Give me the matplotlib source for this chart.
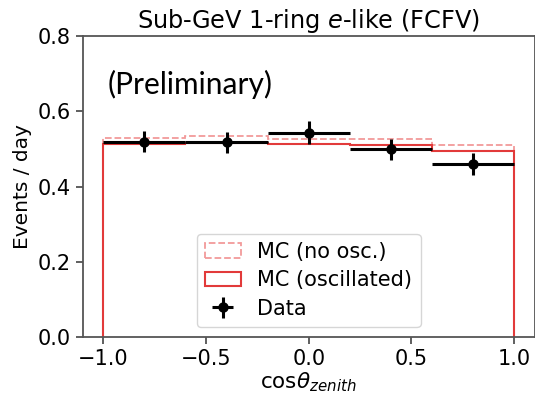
import numpy as np
import matplotlib
matplotlib.use('Agg')
from matplotlib import pyplot as plt
from matplotlib.patches import Patch

# bins in cos(theta_zenith)
edges = [-1.0, -0.6, -0.2, 0.2, 0.6, 1.0]
centers = [-0.8, -0.4, 0.0, 0.4, 0.8]
mc_noosc = [0.528, 0.535, 0.527, 0.526, 0.510]
mc_osc = [0.512, 0.516, 0.512, 0.510, 0.495]
data = [0.519, 0.518, 0.543, 0.499, 0.459]
data_err = [0.028, 0.028, 0.030, 0.028, 0.029]

plt.rcParams['font.family'] = ['DejaVu Sans']
fig = plt.figure(figsize=(5.35, 3.94), dpi=100)
ax = fig.add_axes([0.1546, 0.144, 0.845, 0.765])

c_noosc = '#f29a9a'
c_osc = '#e23a3a'
ax.stairs(mc_noosc, edges, baseline=0, color=c_noosc,
          linestyle='--', linewidth=1.3)
ax.stairs(mc_osc, edges, baseline=0, color=c_osc, linewidth=1.5)
eb = ax.errorbar(centers, data, yerr=data_err, xerr=0.2, fmt='o', color='black',
                 markersize=6.5, elinewidth=2.2, capsize=0)

ax.set_xlim(-1.1, 1.1)
ax.set_ylim(0, 0.8)
ax.set_xticks([-1.0, -0.5, 0.0, 0.5, 1.0])
ax.set_yticks([0.0, 0.2, 0.4, 0.6, 0.8])
ax.tick_params(labelsize=15, width=1.2, length=5, color='#444444')
for s in ax.spines.values():
    s.set_color('#555555')
    s.set_linewidth(1.3)

ax.set_title('Sub-GeV 1-ring $e$-like (FCFV)', fontsize=17.3, pad=6)
ax.set_ylabel('Events / day', fontsize=14.5)
ax.set_xlabel(r'cos$\theta_{zenith}$', fontsize=15.5, labelpad=1)

handles = [Patch(facecolor='none', edgecolor=c_noosc, linestyle='--', linewidth=1.3),
           Patch(facecolor='none', edgecolor=c_osc, linewidth=1.5),
           eb]
labels = ['MC (no osc.)', 'MC (oscillated)', 'Data']
ax.legend(handles, labels, loc='lower center', fontsize=15, handlelength=1.7,
          handletextpad=0.8, labelspacing=0.4, borderaxespad=0.5)

fig.text(0.202, 0.762, '(Preliminary)', fontsize=21.5, family=['Lato', 'DejaVu Sans'])

fig.savefig('out.png', dpi=100)
